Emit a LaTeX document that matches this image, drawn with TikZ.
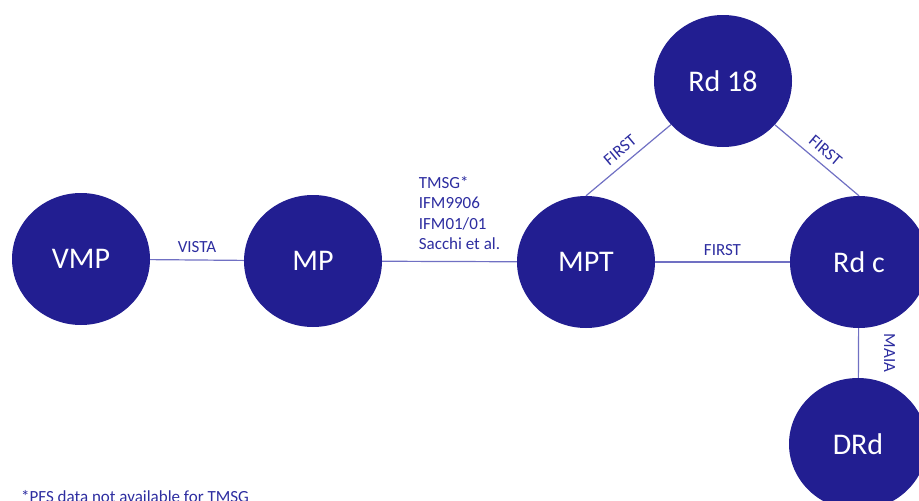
\documentclass[tikz,border=0pt]{standalone}
\usepackage{fontspec}
\setmainfont{Carlito}
\usetikzlibrary{shapes.geometric}

\definecolor{bubblefill}{RGB}{34,30,145}
\definecolor{linkline}{RGB}{112,112,195}
\definecolor{lbltext}{RGB}{45,45,160}

\tikzset{
  bubble/.style={ellipse, fill=bubblefill, text=white, inner sep=0,
    minimum width=138, minimum height=132, font=\fontsize{30}{34}\selectfont},
  link/.style={draw=linkline, line width=1.2},
  lbl/.style={text=lbltext, inner sep=3, font=\fontsize{17}{20.5}\selectfont}
}

\begin{document}
\begin{tikzpicture}[x=1,y=-1]
\useasboundingbox (0,0) rectangle (919,501);
\node[bubble] (VMP) at (81,259) {VMP};
\node[bubble] (MP) at (313,261) {MP};
\node[bubble] (MPT) at (586,262) {MPT};
\node[bubble] (Rd18) at (723,81) {Rd 18};
\node[bubble] (Rdc) at (859,262) {Rd c};
\node[bubble] (DRd) at (858,444) {DRd};
\path[link] (VMP) edge node[lbl, above=4] {VISTA} (MP)
          (MP) edge node[lbl, above=8, align=left, xshift=10] {TMSG*\\IFM9906\\IFM01/01\\Sacchi et al.} (MPT)
          (MPT) edge node[lbl, above=3] {FIRST} (Rdc)
          (MPT.north) edge node[lbl, above=4, sloped] {FIRST} (Rd18)
          (Rd18) edge node[lbl, above=4, sloped] {FIRST} (Rdc.north)
          (Rdc) edge node[lbl, rotate=-90, anchor=south, yshift=22] {MAIA} (DRd)
          ;
% footnote, partly below the page edge
\node[lbl, inner sep=0, anchor=base west] (note) at (21,502) {*PFS data not available for TMSG};
\end{tikzpicture}
\end{document}
